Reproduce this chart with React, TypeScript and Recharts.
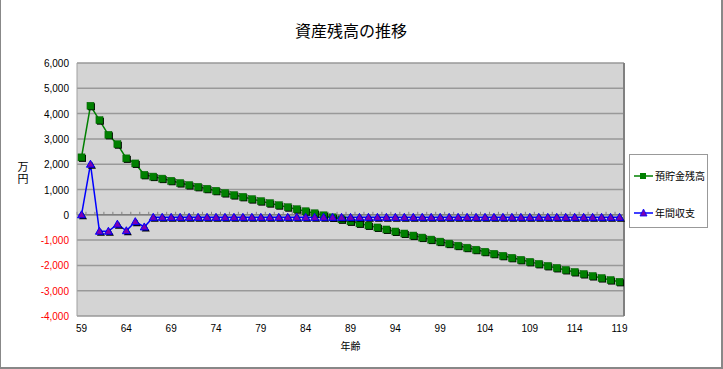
import { LineChart, Line, XAxis, YAxis, CartesianGrid, ReferenceLine } from 'recharts';

const JP_FONT = '"Noto Sans CJK JP", "Noto Sans", sans-serif';
const NUM_FONT = '"Liberation Sans", Arial, sans-serif';

// 年齢 (categories)
const ages = [
  59, 60, 61, 62, 63, 64, 65, 66, 67, 68, 69, 70, 71, 72, 73, 74, 75, 76, 77, 78, 79,
  80, 81, 82, 83, 84, 85, 86, 87, 88, 89, 90, 91, 92, 93, 94, 95, 96, 97, 98, 99,
  100, 101, 102, 103, 104, 105, 106, 107, 108, 109, 110, 111, 112, 113, 114, 115, 116, 117, 118, 119,
];

// 預貯金残高 (万円)
const savings = [
  2270, 4310, 3740, 3160, 2790, 2230, 2030, 1580, 1510, 1430, 1345, 1255, 1175, 1105, 1030, 950, 860, 780, 710, 620, 540,
  460, 380, 300, 220, 140, 60, -20, -100, -180, -260, -340, -420, -500, -580, -660, -740, -820, -900, -980, -1060,
  -1140, -1220, -1300, -1380, -1460, -1540, -1620, -1700, -1780, -1860, -1940, -2020, -2100, -2180, -2260, -2340, -2420, -2500, -2580, -2650,
];

// 年間収支 (万円)
const annualBalance = [
  0, 2000, -650, -650, -370, -630, -270, -480, -100, -100, -100, -100, -100, -100, -100, -100, -100, -100, -100, -100, -100,
  -100, -100, -100, -100, -100, -100, -100, -100, -100, -100, -100, -100, -100, -100, -100, -100, -100, -100, -100, -100,
  -100, -100, -100, -100, -100, -100, -100, -100, -100, -100, -100, -100, -100, -100, -100, -100, -100, -100, -100, -100,
];

const yTicks = [-4000, -3000, -2000, -1000, 0, 1000, 2000, 3000, 4000, 5000, 6000];

const chartData = ages.map((age, i) => ({
  age: String(age),
  savings: savings[i],
  balance: annualBalance[i],
}));

const fmt = (v: number) => (v < 0 ? '-' : '') + Math.abs(v).toLocaleString('en-US');

const YTick = ({ x, y, payload }: any) => (
  <text
    x={x}
    y={y}
    dy={4}
    textAnchor="end"
    fontSize={10}
    fontFamily={NUM_FONT}
    fill={payload.value < 0 ? '#FF0000' : '#000000'}
  >
    {fmt(payload.value)}
  </text>
);

const XTick = ({ x, y, payload }: any) => (
  <text x={x} y={y} dy={8} textAnchor="middle" fontSize={10} fontFamily={NUM_FONT} fill="#000000">
    {payload.value}
  </text>
);

const SquareDot = (props: any) => {
  const { cx, cy, index } = props;
  if (cx == null || cy == null) return null;
  return (
    <g key={`sq-${index}`}>
      <rect x={cx - 2.5} y={cy - 2.5} width={7} height={7} fill="#000000" />
      <rect x={cx - 3.5} y={cy - 3.5} width={7} height={7} fill="#008000" stroke="#006000" strokeWidth={0.5} />
    </g>
  );
};

const TriangleDot = (props: any) => {
  const { cx, cy, index } = props;
  if (cx == null || cy == null) return null;
  const tri = (dx: number, dy: number) =>
    `${cx + dx},${cy - 4 + dy} ${cx + 4 + dx},${cy + 3 + dy} ${cx - 4 + dx},${cy + 3 + dy}`;
  return (
    <g key={`tri-${index}`}>
      <polygon points={tri(1.5, 1.5)} fill="#000000" />
      <polygon points={tri(0, 0)} fill="#7A00B0" stroke="#0000FF" strokeWidth={1} />
    </g>
  );
};

// y=0 軸線と目盛り
const ZeroAxis = (props: any) => {
  const { x1, x2, y1 } = props;
  if (x1 == null) return null;
  const n = ages.length;
  const step = (x2 - x1) / n;
  const marks = [];
  for (let i = 0; i <= n; i++) {
    const x = x1 + i * step;
    marks.push(<line key={i} x1={x} x2={x} y1={y1 - 3} y2={y1} stroke="#808080" strokeWidth={1} />);
  }
  return (
    <g>
      <line x1={x1} x2={x2} y1={y1} y2={y1} stroke="#808080" strokeWidth={1.5} />
      {marks}
    </g>
  );
};

const LegendBox = () => (
  <div
    style={{
      position: 'absolute',
      left: 628,
      top: 154,
      width: 77,
      height: 72,
      border: '1px solid #999',
      background: '#fff',
      fontFamily: JP_FONT,
      fontSize: 10,
      color: '#000',
    }}
  >
    <div style={{ position: 'absolute', left: 4, top: 13, display: 'flex', alignItems: 'center' }}>
      <svg width={20} height={10}>
        <line x1={0} x2={19} y1={5} y2={5} stroke="#008000" strokeWidth={1.5} />
        <rect x={6} y={2} width={6} height={6} fill="#008000" />
      </svg>
      <span style={{ marginLeft: 1 }}>預貯金残高</span>
    </div>
    <div style={{ position: 'absolute', left: 4, top: 50, display: 'flex', alignItems: 'center' }}>
      <svg width={20} height={10}>
        <line x1={0} x2={19} y1={5} y2={5} stroke="#0000FF" strokeWidth={1.5} />
        <polygon points="9.5,1 13,8 6,8" fill="#7A00B0" stroke="#0000FF" strokeWidth={0.8} />
      </svg>
      <span style={{ marginLeft: 1 }}>年間収支</span>
    </div>
  </div>
);

export default function App() {
  return (
    <div
      style={{
        position: 'absolute',
        left: 0,
        top: 0,
        width: 723,
        height: 369,
        background: '#fff',
        boxSizing: 'border-box',
        borderLeft: '1px solid #888',
        borderRight: '2px solid #888',
        borderBottom: '2px solid #888',
        overflow: 'hidden',
      }}
    >
      <div
        style={{
          position: 'absolute',
          left: 0,
          width: 700,
          top: 19,
          textAlign: 'center',
          fontFamily: JP_FONT,
          fontSize: 16,
          lineHeight: '22px',
          color: '#000',
        }}
      >
        資産残高の推移
      </div>
      <div
        style={{
          position: 'absolute',
          left: 15,
          top: 161,
          writingMode: 'vertical-rl',
          fontFamily: JP_FONT,
          fontSize: 11,
          lineHeight: '14px',
          letterSpacing: 1,
          color: '#000',
        }}
      >
        万円
      </div>
      <div
        style={{
          position: 'absolute',
          left: 76,
          width: 547,
          top: 339,
          textAlign: 'center',
          fontFamily: JP_FONT,
          fontSize: 10,
          lineHeight: '14px',
          color: '#000',
        }}
      >
        年齢
      </div>
      <div style={{ position: 'absolute', left: 0, top: 0 }}>
        <LineChart width={723} height={369} data={chartData} margin={{ top: 63, right: 99, bottom: 0, left: 0 }}>
          <CartesianGrid vertical={false} stroke="#999999" strokeWidth={1.5} fill="#D4D4D4" />
          <XAxis
            dataKey="age"
            interval={4}
            padding={{ left: 4.5, right: 4.5 }}
            height={53}
            axisLine={false}
            tickLine={false}
            tick={<XTick />}
          />
          <YAxis
            domain={[-4000, 6000]}
            ticks={yTicks}
            width={76}
            axisLine={{ stroke: '#A0A0A0', strokeWidth: 1 }}
            tickLine={false}
            tick={<YTick />}
          />
          <YAxis
            yAxisId="frame"
            orientation="right"
            domain={[-4000, 6000]}
            width={1}
            tick={false}
            tickLine={false}
            axisLine={{ stroke: '#808080', strokeWidth: 2 }}
          />
          <ReferenceLine y={0} shape={<ZeroAxis />} />
          <Line
            dataKey="savings"
            stroke="#008000"
            strokeWidth={1.5}
            dot={<SquareDot />}
            activeDot={false}
            isAnimationActive={false}
          />
          <Line
            dataKey="balance"
            stroke="#0000FF"
            strokeWidth={1.5}
            dot={<TriangleDot />}
            activeDot={false}
            isAnimationActive={false}
          />
        </LineChart>
      </div>
      <LegendBox />
    </div>
  );
}
